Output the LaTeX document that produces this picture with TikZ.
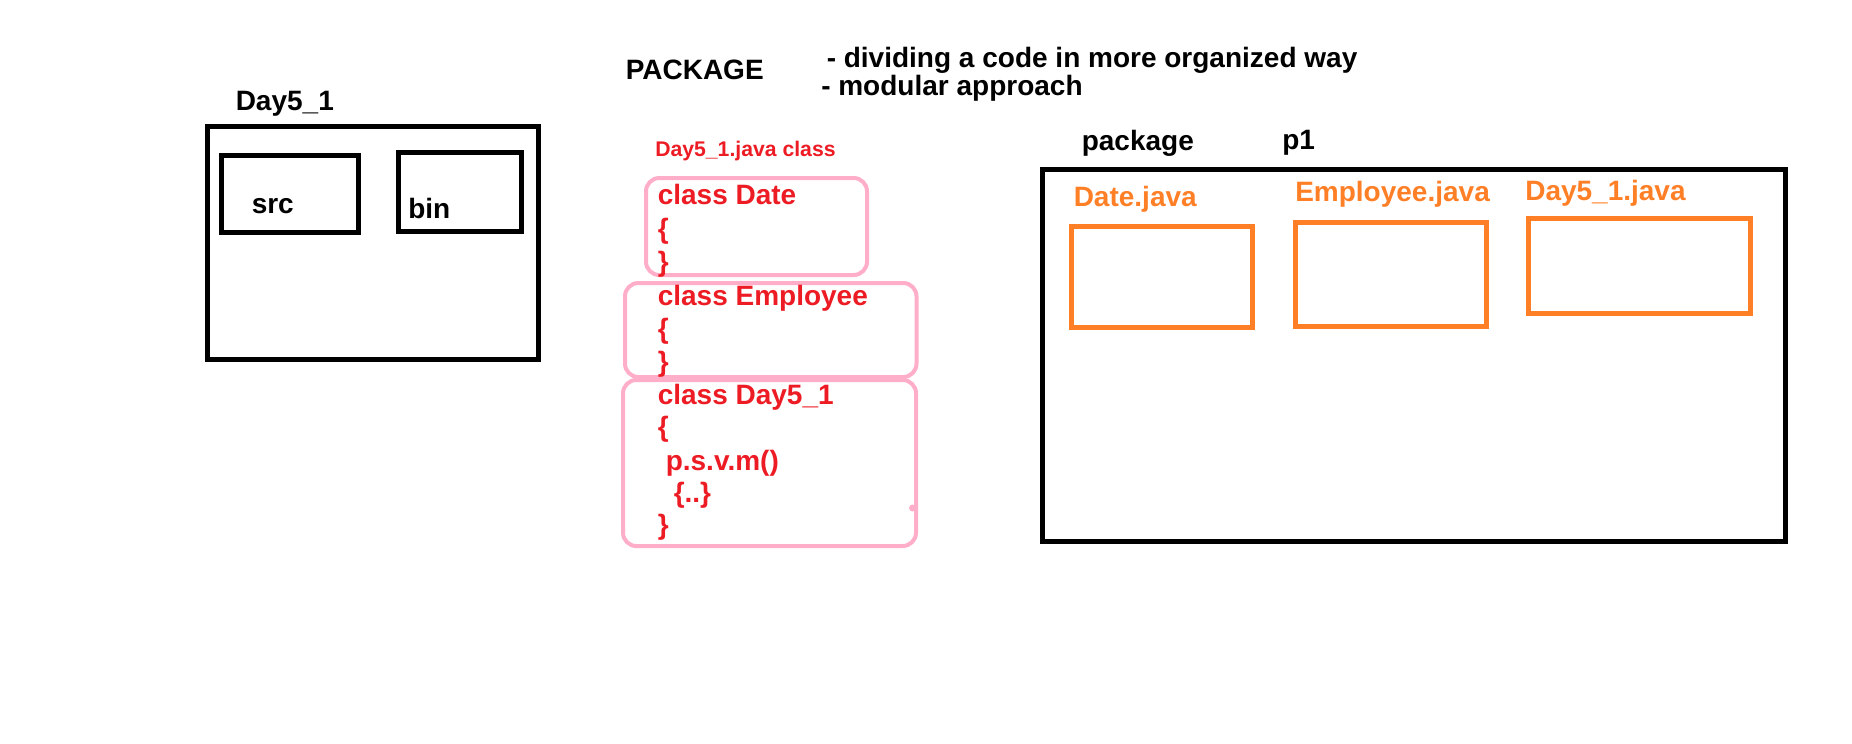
\documentclass[tikz,border=0pt]{standalone}
\usepackage{fontspec}
\setmainfont{Liberation Sans}
\usetikzlibrary{fit}
\definecolor{pred}{RGB}{237,28,36}
\definecolor{ppink}{RGB}{255,174,201}
\definecolor{porange}{RGB}{255,127,39}
\begin{document}
\begin{tikzpicture}[x=0.75pt,y=-0.75pt,
  blkbox/.style={draw=black, line width=3.75pt, inner sep=0pt},
  pinkbox/.style={draw=ppink, line width=3pt, inner sep=0pt, rounded corners=10pt},
  orbox/.style={draw=porange, line width=3.75pt, inner sep=0pt},
  lbl/.style={inner sep=0pt, anchor=base west, font=\bfseries\fontsize{21pt}{25pt}\selectfont},
  redlbl/.style={lbl, text=pred},
  orlbl/.style={lbl, text=porange},
  smalllbl/.style={inner sep=0pt, anchor=base west, text=pred, font=\bfseries\fontsize{15.9pt}{19pt}\selectfont}]
\fill[white] (0,0) rectangle (1852,743);
\useasboundingbox (0,0) rectangle (1852,743);

% left project box
\node[blkbox, fit={(207.7,126.7) (538,359)}] (proj) {};
\node[blkbox, fit={(221.7,155) (358,232.7)}] (srcbox) {};
\node[blkbox, fit={(398,152) (521,231)}] (binbox) {};
\node[lbl] (tday) at (235.5,110.5) {Day5\_1};
\node[lbl] (tsrc) at (251.5,213) {src};
\node[lbl] (tbin) at (408,218.5) {bin};

% heading
\node[lbl] (tpkg) at (625.5,79.5) {PACKAGE};
\node[lbl] (tdiv) at (826.5,67.5) {- dividing a code in more organized way};
\node[lbl] (tmod) at (821,95.5) {- modular approach};

% code column
\node[smalllbl] (tfile) at (655,156) {Day5\_1.java class};
\node[pinkbox, fit={(646,178) (867,275)}] (cdate) {};
\node[pinkbox, fit={(625,283) (916.5,377)}] (cemp) {};
\node[pinkbox, fit={(623,380) (916,546)}] (cday) {};
\fill[ppink] (912.5,508) circle (3.5);

\node[redlbl] (d1) at (657.5,204.5) {class Date};
\node[redlbl] (d2) at (657.5,238) {\{};
\node[redlbl] (d3) at (657.5,271) {\}};
\node[redlbl] (e1) at (657.5,305) {class Employee};
\node[redlbl] (e2) at (657.5,338) {\{};
\node[redlbl] (e3) at (657.5,371) {\}};
\node[redlbl] (m1) at (657.5,404) {class Day5\_1};
\node[redlbl] (m2) at (657.5,436.5) {\{};
\node[redlbl] (m3) at (665.5,470) {p.s.v.m()};
\node[redlbl] (m4) at (673.5,502) {\{..\}};
\node[redlbl] (m5) at (657.5,534.5) {\}};

% package p1
\node[lbl] (tpack) at (1081.5,150) {package};
\node[lbl] (tp1) at (1282,149) {p1};
\node[blkbox, fit={(1042,169) (1785.5,541)}] (pkgbox) {};
\node[orlbl] (tdate) at (1073.5,206) {Date.java};
\node[orlbl] (temp) at (1295,201.5) {Employee.java};
\node[orlbl] (tmain) at (1525,200) {Day5\_1.java};
\node[orbox, fit={(1071,226) (1252,327)}] (fdate) {};
\node[orbox, fit={(1295,222) (1486,326.5)}] (femp) {};
\node[orbox, fit={(1528,218) (1750,313.5)}] (fmain) {};
\end{tikzpicture}
\end{document}
